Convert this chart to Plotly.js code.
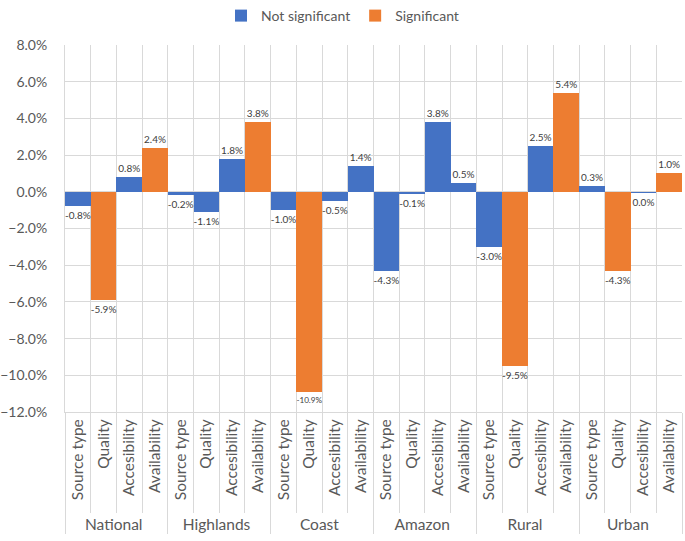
<!DOCTYPE html>
<html>
<head>
<meta charset="utf-8">
<script src="https://cdn.plot.ly/plotly-3.0.1.min.js"></script>
<style>html,body{margin:0;padding:0;background:#fff;}#chart{width:685px;height:541px;}</style>
</head>
<body>
<div id="chart"></div>
<script>
const groups = ['National','Highlands','Coast','Amazon','Rural','Urban'];
const indicators = ['Source type','Quality','Accesibility','Availability'];
const valNational  = [-0.8, -5.9, 0.8, 2.4];
const valHighlands = [-0.2, -1.1, 1.8, 3.8];
const valCoast     = [-1.0, -10.9, -0.5, 1.4];
const valAmazon    = [-4.3, -0.1, 3.8, 0.5];
const valRural     = [-3.0, -9.5, 2.5, 5.4];
const valUrban     = [0.3, -4.3, -0.04, 1.0];
const sigNational  = [0,1,0,1];
const sigHighlands = [0,0,0,1];
const sigCoast     = [0,1,0,0];
const sigAmazon    = [0,0,0,0];
const sigRural     = [0,1,0,1];
const sigUrban     = [0,1,0,1];
const seriesNames = ['Not significant','Significant'];
const seriesColors = ['#4472C4','#ED7D31'];

const allVals = [valNational,valHighlands,valCoast,valAmazon,valRural,valUrban];
const allSig = [sigNational,sigHighlands,sigCoast,sigAmazon,sigRural,sigUrban];

const xg = [], xc = [];
groups.forEach(g => indicators.forEach(c => { xg.push(g); xc.push(c); }));

function fmt(v){ const r = Math.round(v*10)/10; return (r === 0 ? 0 : r).toFixed(1) + '%'; }

const traces = seriesNames.map((name, s) => {
  const y = [], t = [];
  allVals.forEach((arr, gi) => arr.forEach((v, ci) => {
    if (allSig[gi][ci] === s) { y.push(v); t.push(fmt(v)); }
    else { y.push(null); t.push(''); }
  }));
  return {
    type: 'bar', name: name, x: [xg, xc], y: y, text: t,
    textposition: 'outside', cliponaxis: false,
    textfont: {size: 10, color: '#404040', family: 'Lato'},
    marker: {color: seriesColors[s]},
    hoverinfo: 'none'
  };
});

const layout = {
  width: 685, height: 541,
  margin: {l: 65, r: 3, t: 45, b: 129, autoexpand: false},
  paper_bgcolor: '#fff', plot_bgcolor: '#fff',
  font: {family: 'Lato', color: '#595959', size: 14},
  barmode: 'overlay', bargap: 0,
  showlegend: true,
  legend: {orientation: 'h', x: 0.5, xref: 'container', xanchor: 'center', y: 1, yref: 'container', yanchor: 'top',
           font: {size: 14, color: '#595959'}, itemwidth: 30, traceorder: 'normal'},
  xaxis: {
    type: 'multicategory', tickson: 'boundaries', showgrid: true, gridcolor: '#d9d9d9',
    ticks: 'outside', ticklen: 100, tickcolor: '#d9d9d9', tickangle: -90,
    showdividers: true, dividercolor: '#d9d9d9', dividerwidth: 1,
    showline: true, linecolor: '#d9d9d9', mirror: false,
    tickfont: {size: 15.5, color: '#595959'}
  },
  yaxis: {
    range: [-12, 8], dtick: 2, tick0: 0, ticksuffix: '%', tickformat: '.1f',
    showgrid: true, gridcolor: '#d9d9d9', zeroline: true, zerolinecolor: '#d9d9d9',
    showline: true, linecolor: '#d9d9d9', ticks: '', ticklabelstandoff: 14,
    tickfont: {size: 14, color: '#595959'}
  }
};

Plotly.newPlot('chart', traces, layout, {displayModeBar: false, staticPlot: true});
</script>
</body>
</html>
